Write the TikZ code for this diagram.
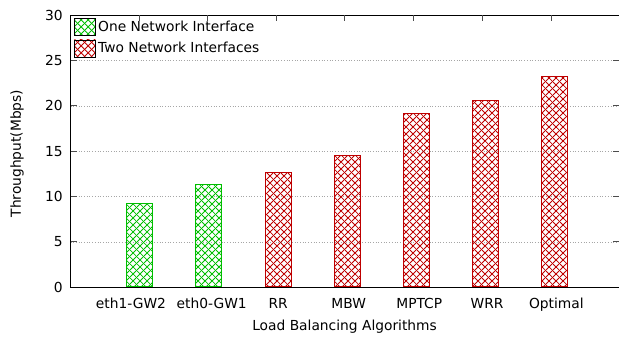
\documentclass[tikz,border=0pt]{standalone}
\usepackage{fontspec}
\setmainfont{DejaVu Sans}
\usetikzlibrary{patterns.meta}

\definecolor{ifgreen}{RGB}{0,190,0}
\definecolor{ifred}{RGB}{190,0,0}

\tikzdeclarepattern{
  name = xhatch,
  type = uncolored,
  bounding box = {(0pt,0pt) and (6.5pt,6.5pt)},
  tile size = {(6.5pt,6.5pt)},
  code = {
    \draw[line width=0.9pt] (-1pt,-1pt) -- (7.5pt,7.5pt) (-1pt,7.5pt) -- (7.5pt,-1pt);
  }
}

\begin{document}
\begin{tikzpicture}[x = 69.2pt, y = 9.07pt, font = \fontsize{13.8}{16}\selectfont,
        oneif/.style = {draw = ifgreen, pattern = xhatch, pattern color = ifgreen, line width = 1pt, minimum width = 26pt, inner sep = 0pt},
        twoif/.style = {draw = ifred, pattern = xhatch, pattern color = ifred, line width = 1pt, minimum width = 26pt, inner sep = 0pt},
        keybox/.style = {draw = black, line width = 0.8pt, minimum width = 21pt, minimum height = 17pt, inner sep = 0pt, anchor = north west},
        gridline/.style = {gray!70, dotted, line width = 0.7pt},
        axisline/.style = {black, line width = 1.2pt},
        tickmark/.style = {gray!60!black, line width = 1pt},
        ylab/.style = {anchor = east, inner sep = 0pt},
        xlab/.style = {anchor = base, inner sep = 0pt},
    ]
    \path[use as bounding box, fill = white] (-1.0188,-5.369) rectangle (7.926,31.676);

    % grid
    \draw[gridline] (0,5) -- (7.926,5);
    \draw[gridline] (0,10) -- (7.926,10);
    \draw[gridline] (0,15) -- (7.926,15);
    \draw[gridline] (0,20) -- (7.926,20);
    \draw[gridline] (0,25) -- (7.926,25);

    % bars
    \node[oneif, anchor = south, minimum height = 9.2*9.07pt] (barEthOne) at (1,0) {};
    \node[oneif, anchor = south, minimum height = 11.25*9.07pt] (barEthZero) at (2,0) {};
    \node[twoif, anchor = south, minimum height = 12.65*9.07pt] (barRR) at (3,0) {};
    \node[twoif, anchor = south, minimum height = 14.5*9.07pt] (barMBW) at (4,0) {};
    \node[twoif, anchor = south, minimum height = 19.1*9.07pt] (barMPTCP) at (5,0) {};
    \node[twoif, anchor = south, minimum height = 20.5*9.07pt] (barWRR) at (6,0) {};
    \node[twoif, anchor = south, minimum height = 23.15*9.07pt] (barOpt) at (7,0) {};

    % axes and ticks
    \draw[axisline] (7.926,0) -- (0,0) -- (0,30) -- (7.926,30);
    \draw[tickmark] (0,5) -- (0.087,5) (0,10) -- (0.087,10) (0,15) -- (0.087,15) (0,20) -- (0.087,20) (0,25) -- (0.087,25);
    \draw[tickmark] (7.84,5) -- (7.926,5) (7.84,10) -- (7.926,10) (7.84,15) -- (7.926,15) (7.84,20) -- (7.926,20) (7.84,25) -- (7.926,25);
    \draw[tickmark] (0.99,30) -- (0.99,29.34) (1.98,30) -- (1.98,29.34) (2.97,30) -- (2.97,29.34) (3.96,30) -- (3.96,29.34)
        (4.96,30) -- (4.96,29.34) (5.95,30) -- (5.95,29.34) (6.95,30) -- (6.95,29.34);

    \node[ylab] (y0) at (-0.11,0) {0};
    \node[ylab] (y5) at (-0.11,5) {5};
    \node[ylab] (y10) at (-0.11,10) {10};
    \node[ylab] (y15) at (-0.11,15) {15};
    \node[ylab] (y20) at (-0.11,20) {20};
    \node[ylab] (y25) at (-0.11,25) {25};
    \node[ylab] (y30) at (-0.11,30) {30};

    \node[xlab] (xEthOne) at (0.874,-2.32) {eth1-GW2};
    \node[xlab] (xEthZero) at (2.04,-2.32) {eth0-GW1};
    \node[xlab] (xRR) at (3,-2.32) {RR};
    \node[xlab] (xMBW) at (4.02,-2.32) {MBW};
    \node[xlab] (xMPTCP) at (5.04,-2.32) {MPTCP};
    \node[xlab] (xWRR) at (6.02,-2.32) {WRR};
    \node[xlab] (xOpt) at (7.02,-2.32) {Optimal};

    \node[rotate = 90] (yTitle) at (-0.773,14.75) {Throughput(Mbps)};
    \node[xlab] (xTitle) at (3.96,-4.76) {Load Balancing Algorithms};

    % legend
    \node[keybox, pattern = xhatch, pattern color = ifgreen] (keyOne) at (0.05,29.69) {};
    \node[keybox, pattern = xhatch, pattern color = ifred] (keyTwo) at (0.05,27.32) {};
    \node[anchor = west, inner sep = 0pt] (txtOne) at (0.397,28.81) {One Network Interface};
    \node[anchor = west, inner sep = 0pt] (txtTwo) at (0.397,26.49) {Two Network Interfaces};
\end{tikzpicture}
\end{document}
